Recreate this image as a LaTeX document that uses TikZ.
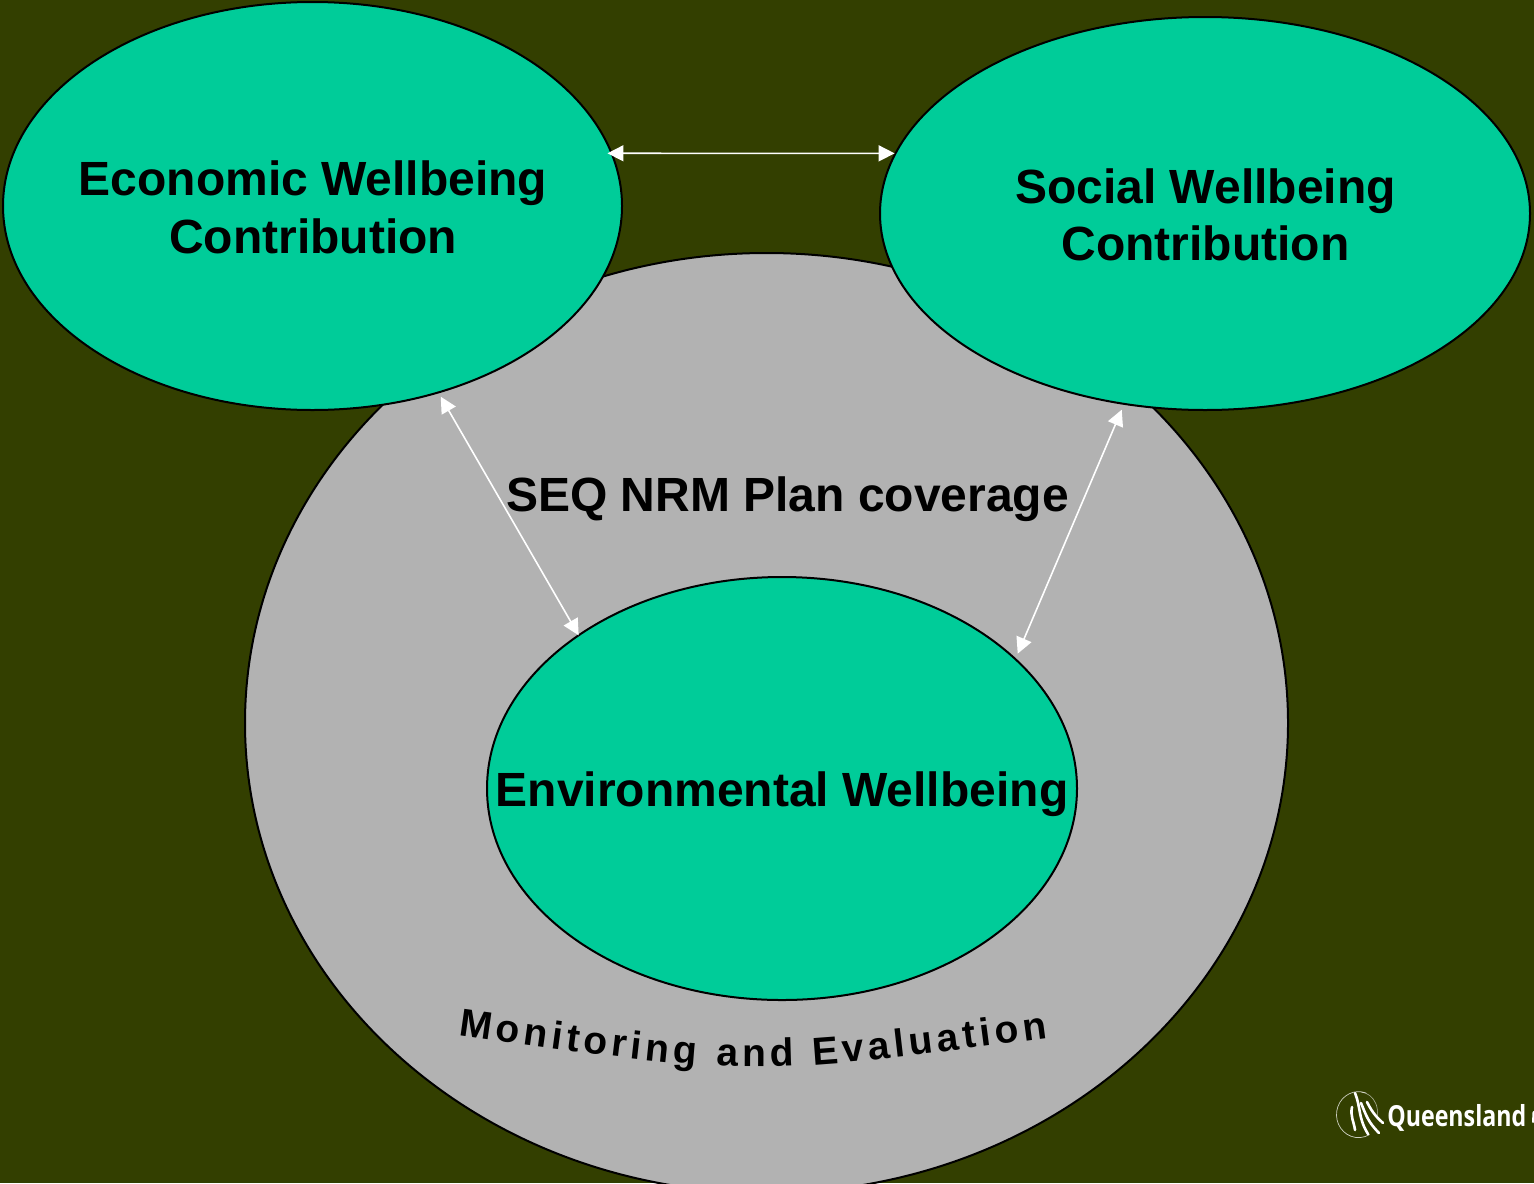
\documentclass[tikz,border=0pt]{standalone}
\usepackage{fontspec}
\setmainfont{Liberation Sans}
\newfontfamily\logofont{Open Sans}
\usetikzlibrary{shapes.geometric,arrows.meta,decorations.text}
\definecolor{bgolive}{HTML}{333F00}
\definecolor{teal}{HTML}{00CC99}
\definecolor{ringgray}{HTML}{B2B2B2}
\tikzset{
  x=0.5pt,y=-0.5pt,
  blob/.style={ellipse,draw=black,line width=1pt,inner sep=0pt,outer sep=0pt},
  wellbeing/.style={blob,fill=teal},
  ring/.style={blob,fill=ringgray},
  caption/.style={font=\fontsize{24}{28.75}\selectfont\bfseries,text=black,align=center,inner sep=0pt},
  link/.style={draw=white,line width=0.8pt,{Triangle[length=8pt,width=8pt]}-{Triangle[length=8pt,width=8pt]}},
  logo/.style={draw=white,line cap=round,line join=round}
}
\begin{document}
\begin{tikzpicture}
\useasboundingbox (0,0) rectangle (1534,1183);
\fill[bgolive] (0,0) rectangle (1534,1183);
\clip (0,0) rectangle (1534,1183);
\node[ring,minimum width=521.5pt,minimum height=470pt] (cover) at (766.5,723) {};
\node[wellbeing,minimum width=309.5pt,minimum height=204pt] (eco) at (312.5,206) {};
\node[wellbeing,minimum width=325pt,minimum height=196.5pt] (soc) at (1205,213.5) {};
\node[wellbeing,minimum width=295pt,minimum height=211.5pt] (env) at (782,788.5) {};
\node[caption] (ecot) at (313,207.5) {Economic Wellbeing\\Contribution};
\node[caption] (soct) at (1205.5,215) {Social Wellbeing\\Contribution};
\node[caption] (envt) at (782,794) {Environmental Wellbeing};
\node[caption] (seq) at (787.5,499.5) {SEQ NRM Plan coverage};
\draw[link,shorten <=-2pt,shorten >=0.5pt] (eco.10) -- (soc.169);
\draw[link,shorten <=2.5pt] (eco.-56.3) -- (env.143.2);
\draw[link,shorten <=3.2pt,shorten >=3pt] (soc.-113.7) -- (env.29.7);
\path[decorate,decoration={text along path,text align={fit to path},
  text={|\fontsize{19.5}{19.5}\selectfont\bfseries|Monitoring and Evaluation}}]
  (458,1035) .. controls (753,1077) .. (1048,1038);
% logo
\draw[logo,line width=0.35pt,opacity=.75] (1366,1093) arc[start angle=-70,end angle=-300,x radius=22,y radius=23];
\draw[logo,line width=0.3pt,opacity=.6] (1361,1092) arc[start angle=-85,end angle=10,x radius=18,y radius=20];
\draw[logo,line width=1.3pt] (1355,1093) .. controls (1361,1108) and (1358,1118) .. (1368,1134);
\draw[logo,line width=1.3pt] (1361,1103) .. controls (1366,1115) and (1368,1122) .. (1379,1133);
\draw[logo,line width=1.3pt] (1367,1102) .. controls (1371,1110) and (1375,1116) .. (1383,1123);
\draw[logo,line width=1.3pt] (1352,1107) .. controls (1350,1116) and (1354,1122) .. (1355,1130);
\node[inner sep=0pt,anchor=base west,text=white,font=\logofont\bfseries\fontsize{14.5}{15}\selectfont,xscale=.8] (qld) at (1387,1126) {Queensland};
\draw[logo,line width=1pt] (1533.5,1112) -- (1533,1122);
\end{tikzpicture}
\end{document}
